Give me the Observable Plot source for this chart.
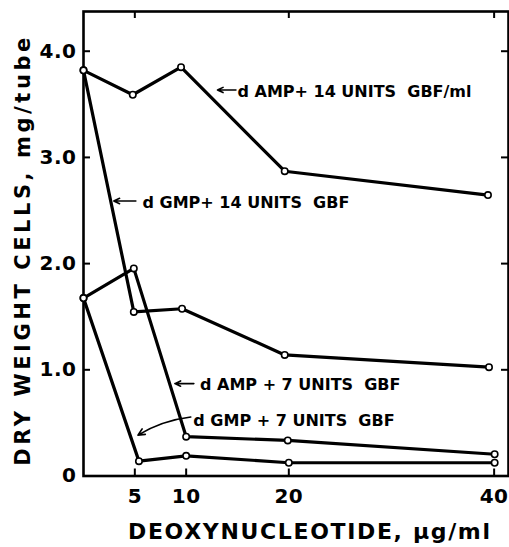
<!DOCTYPE html>
<html>
<head>
<meta charset="utf-8">
<script src="https://cdn.jsdelivr.net/npm/d3@7"></script>
<script src="https://cdn.jsdelivr.net/npm/@observablehq/plot@0.6"></script>
<style>
  html, body { margin: 0; padding: 0; background: white; }
</style>
</head>
<body>
<div id="chart"></div>
<script>
// Series (x in µg/ml as drawn, y in mg/tube)
const amp14X = [0, 4.8, 9.5, 19.6, 39.4];
const amp14Y = [3.82, 3.59, 3.85, 2.87, 2.645];
const gmp14X = [0, 4.9, 9.6, 19.6, 39.5];
const gmp14Y = [3.82, 1.545, 1.575, 1.14, 1.025];
const amp7X = [0, 4.9, 10.0, 19.9, 40.05];
const amp7Y = [1.675, 1.955, 0.37, 0.335, 0.205];
const gmp7X = [0, 5.4, 10.0, 20.0, 40.05];
const gmp7Y = [1.675, 0.14, 0.19, 0.125, 0.125];

// Axis ticks
const xTickValues = [5, 10, 20, 40];
const xTopTickValues = [5, 20, 40];
const yTickValues = [0, 1, 2, 3, 4];
const yTickLabels = ["0", "1.0", "2.0", "3.0", "4.0"];
const yInnerTicks = [1, 2, 3, 4];

// Titles
const xTitle = "DEOXYNUCLEOTIDE, \u00b5g/ml";
const yTitle = "DRY WEIGHT CELLS, mg/tube";

// Annotations
const annText = ["d AMP+ 14 UNITS  GBF/ml", "d GMP+ 14 UNITS  GBF", "d AMP + 7 UNITS  GBF", "d GMP + 7 UNITS  GBF"];
const annX = [15.0, 5.75, 11.35, 10.7];
const annY = [3.62, 2.575, 0.855, 0.515];
// straight arrows
const arrX1 = [14.85, 5.1, 10.75];
const arrY1 = [3.635, 2.59, 0.87];
const arrX2 = [13.05, 2.95, 8.9];
const arrY2 = [3.635, 2.59, 0.87];
// curved arrow
const cArrX1 = [10.45];
const cArrY1 = [0.555];
const cArrX2 = [5.3];
const cArrY2 = [0.385];

const series = [
  {name: "amp14", xs: amp14X, ys: amp14Y},
  {name: "gmp14", xs: gmp14X, ys: gmp14Y},
  {name: "amp7", xs: amp7X, ys: amp7Y},
  {name: "gmp7", xs: gmp7X, ys: gmp7Y}
];
const points = series.flatMap(s => s.xs.map((x, i) => ({series: s.name, x, y: s.ys[i]})));
const anns = annText.map((t, i) => ({t, x: annX[i], y: annY[i]}));
const arrows = arrX1.map((x1, i) => ({x1, y1: arrY1[i], x2: arrX2[i], y2: arrY2[i]}));
const cArrows = cArrX1.map((x1, i) => ({x1, y1: cArrY1[i], x2: cArrX2[i], y2: cArrY2[i]}));

const W = 509, H = 547;
const mL = 83, mR = 1, mT = 11, mB = 71.5;
const plotW = W - mL - mR, plotH = H - mT - mB;
const tickLen = 7;

const chart = Plot.plot({
  width: W,
  height: H,
  marginLeft: mL,
  marginRight: mR,
  marginTop: mT,
  marginBottom: mB,
  x: {domain: [0, 41.4]},
  y: {domain: [0, 4.374]},
  style: {fontFamily: "'DejaVu Sans', sans-serif", fontWeight: "bold", background: "white", color: "black", fontSize: "20px"},
  marks: [
    Plot.frame({stroke: "black", strokeWidth: 2.6}),
    // inward ticks
    Plot.tickY(yInnerTicks, {y: d => d, insetRight: plotW - tickLen, stroke: "black", strokeWidth: 2}),
    Plot.tickY(yInnerTicks, {y: d => d, insetLeft: plotW - tickLen, stroke: "black", strokeWidth: 2}),
    Plot.tickX(xTickValues, {x: d => d, insetTop: plotH - tickLen, stroke: "black", strokeWidth: 2}),
    Plot.tickX(xTopTickValues, {x: d => d, insetBottom: plotH - tickLen, stroke: "black", strokeWidth: 2}),
    // tick labels
    Plot.axisY(yTickValues, {tickSize: 0, tickPadding: 7, label: null, fontSize: 20,
      tickFormat: d => yTickLabels[yTickValues.indexOf(d)]}),
    Plot.axisX(xTickValues, {tickSize: 0, tickPadding: 13, label: null, fontSize: 20, tickFormat: d => String(d)}),
    // titles
    Plot.text([yTitle], {frameAnchor: "left", textAnchor: "middle", dx: -60, dy: 8, rotate: -90, fontSize: 21}),
    Plot.text([xTitle], {frameAnchor: "bottom", textAnchor: "middle", dx: 13, dy: 63, fontSize: 22}),
    // series
    Plot.line(points, {x: "x", y: "y", z: "series", stroke: "black", strokeWidth: 3.2, strokeLinejoin: "miter"}),
    Plot.dot(points, {x: "x", y: "y", r: 3.2, fill: "white", stroke: "black", strokeWidth: 1.6}),
    // annotations
    Plot.text(anns, {x: "x", y: "y", text: "t", textAnchor: "start", fontSize: 16}),
    Plot.arrow(arrows, {x1: "x1", y1: "y1", x2: "x2", y2: "y2", stroke: "black", strokeWidth: 1.6, headLength: 6, headAngle: 50}),
    Plot.arrow(cArrows, {x1: "x1", y1: "y1", x2: "x2", y2: "y2", bend: -12, stroke: "black", strokeWidth: 1.6, headLength: 7, headAngle: 50})
  ]
});

const svg = d3.select(chart);
svg.selectAll("text").filter(function() { return this.textContent === xTitle; })
  .attr("textLength", 362).attr("lengthAdjust", "spacing");
svg.selectAll("text").filter(function() { return this.textContent === yTitle; })
  .attr("textLength", 428).attr("lengthAdjust", "spacing");
svg.selectAll('g[aria-label="y-axis tick label"] text, g[aria-label="x-axis tick label"] text').style("letter-spacing", "0.5px");
document.getElementById("chart").appendChild(chart);
</script>
</body>
</html>
